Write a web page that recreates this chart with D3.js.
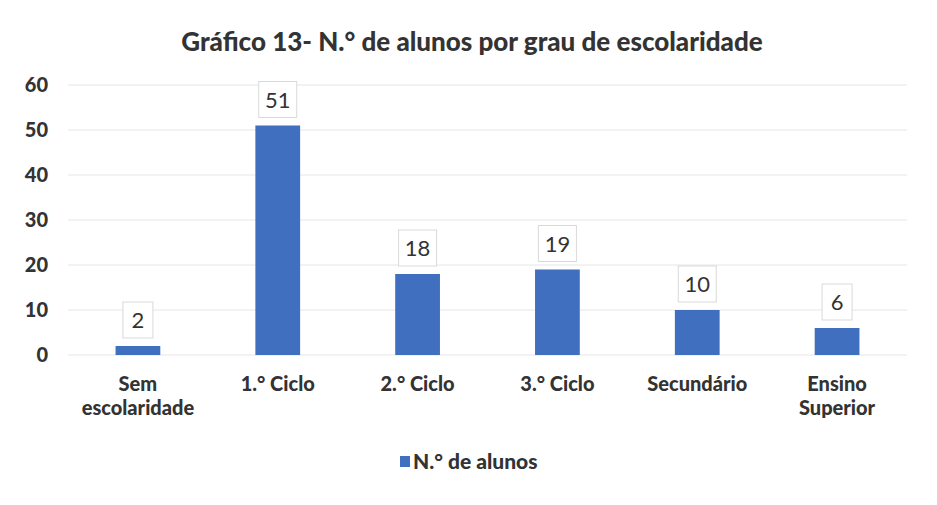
<!DOCTYPE html>
<html><head><meta charset="utf-8">
<script src="https://cdn.jsdelivr.net/npm/d3@7/dist/d3.min.js"></script>
<style>
html,body{margin:0;padding:0;background:#fff;}
svg{display:block;}
</style></head>
<body>
<svg id="c" width="937" height="505"></svg>
<script>
const categories = [["Sem","escolaridade"],["1.° Ciclo"],["2.° Ciclo"],["3.° Ciclo"],["Secundário"],["Ensino","Superior"]];
const values = [2, 51, 18, 19, 10, 6];
const yTicks = [0, 10, 20, 30, 40, 50, 60];
const seriesName = "N.° de alunos";
const title = "Gráfico 13- N.° de alunos por grau de escolaridade";

const svg = d3.select("#c");
const W = 937, H = 505;
const m = {left: 68, right: 30, top: 85, bottom: 150};
const pw = W - m.left - m.right, ph = H - m.top - m.bottom;
const barColor = "#3f6fbe";
const headFont = "Lato, 'Open Sans', sans-serif";

const x = d3.scaleBand().domain(categories.map((d,i)=>i)).range([m.left, m.left+pw]).paddingInner(0.68).paddingOuter(0.34);
const y = d3.scaleLinear().domain([0,60]).range([m.top+ph, m.top]);

// title
svg.append("text").attr("x", 472).attr("y", 51).attr("text-anchor","middle")
  .attr("font-family", headFont).attr("font-weight", 900).attr("font-size", 26)
  .attr("fill","#333").text(title);

// gridlines
const g = svg.append("g");
g.selectAll("line.grid").data(yTicks).join("line")
  .attr("x1", m.left).attr("x2", m.left+pw)
  .attr("y1", d=>y(d)).attr("y2", d=>y(d))
  .attr("stroke", "#e6e6e6").attr("stroke-width", 1);

// y axis labels
const yAxis = d3.axisLeft(y).tickValues(yTicks).tickSize(0).tickPadding(0);
const ya = svg.append("g").attr("transform", `translate(${m.left-20},0)`).call(yAxis);
ya.select(".domain").remove();
ya.selectAll("text").attr("font-family", headFont).attr("font-weight", 900)
  .attr("font-size", 20).attr("fill", "#333");

// bars
svg.selectAll("rect.bar").data(values).join("rect").attr("class","bar")
  .attr("x", (d,i)=>x(i)).attr("width", x.bandwidth())
  .attr("y", d=>y(d)).attr("height", d=>y(0)-y(d))
  .attr("fill", barColor);

// data labels
const lab = svg.selectAll("g.lab").data(values).join("g").attr("class","lab")
  .attr("transform",(d,i)=>`translate(${x(i)+x.bandwidth()/2},${y(d)-8})`);
lab.append("rect")
  .attr("x", d=> String(d).length>1 ? -19 : -15)
  .attr("width", d=> String(d).length>1 ? 38 : 30)
  .attr("y", -36).attr("height", 36)
  .attr("fill","#fff").attr("stroke","#d9d9d9").attr("stroke-width",1);
lab.append("text").attr("text-anchor","middle").attr("y", -10)
  .attr("font-family","Lato, 'Open Sans', sans-serif").attr("font-size", 22)
  .attr("fill","#333").text(d=>d);

// x axis labels
const xa = svg.append("g");
categories.forEach((lines,i)=>{
  const t = xa.append("text").attr("text-anchor","middle")
    .attr("x", x(i)+x.bandwidth()/2).attr("y", 391)
    .attr("font-family", headFont).attr("font-weight", 900).attr("font-size", 20)
    .attr("fill","#333");
  lines.forEach((ln,j)=>{
    t.append("tspan").attr("x", x(i)+x.bandwidth()/2).attr("dy", j===0?0:24).text(ln);
  });
});

// legend
const lg = svg.append("g").attr("transform","translate(400,469)");
lg.append("rect").attr("x",0).attr("y",-13).attr("width",10).attr("height",11).attr("fill",barColor);
lg.append("text").attr("x",13).attr("y",0).attr("font-family", headFont).attr("font-weight",900)
  .attr("font-size",21).attr("fill","#333").text(seriesName);
</script>
</body></html>
